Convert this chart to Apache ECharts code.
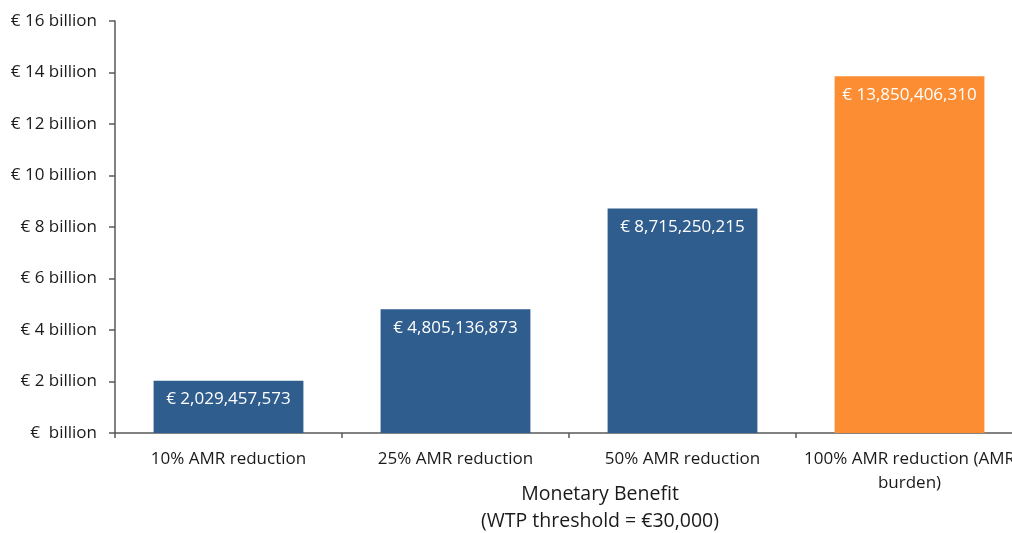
<!DOCTYPE html>
<html>
<head>
<meta charset="utf-8">
<script src="https://cdn.jsdelivr.net/npm/echarts@6/dist/echarts.min.js"></script>
<style>
  html, body { margin: 0; padding: 0; background: #ffffff; }
  #chart { width: 1012px; height: 533px; }
</style>
</head>
<body>
<div id="chart"></div>
<script>
// Monetary benefit of AMR reduction scenarios
const categories = [
  '10% AMR reduction',
  '25% AMR reduction',
  '50% AMR reduction',
  '100% AMR reduction (AMR\nburden)'
];
const benefitValues = [2029457573, 4805136873, 8715250215, 13850406310];
const barColors = ['#2F5D8E', '#2F5D8E', '#2F5D8E', '#FD8D33'];
const yTickStep = 2e9;
const yMax = 16e9;

const FONT = '"Open Sans", "Noto Sans", sans-serif';

function euro(v) {
  return '€ ' + Math.round(v).toLocaleString('en-US');
}

const chart = echarts.init(document.getElementById('chart'), null, { renderer: 'canvas' });
chart.setOption({
  backgroundColor: '#ffffff',
  animation: false,
  grid: {
    left: 115, top: 21, width: 908, height: 412,
    containLabel: false, outerBoundsMode: 'none'
  },
  xAxis: {
    type: 'category',
    data: categories,
    name: 'Monetary Benefit\n(WTP threshold = €30,000)',
    nameLocation: 'middle',
    nameGap: 48,
    nameMoveOverlap: false,
    nameTextStyle: {
      fontFamily: FONT, fontSize: 19.5, color: '#1a1a1a', lineHeight: 27,
      verticalAlign: 'top', padding: [0, 0, 0, 62]
    },
    axisLine: { lineStyle: { color: '#595959', width: 1.5 } },
    axisTick: { show: true, length: 5, lineStyle: { color: '#595959', width: 1.5 } },
    axisLabel: {
      fontFamily: FONT, fontSize: 17, color: '#1a1a1a', margin: 14,
      lineHeight: 24, interval: 0
    }
  },
  yAxis: {
    type: 'value',
    min: 0,
    max: yMax,
    interval: yTickStep,
    splitLine: { show: false },
    axisLine: { show: true, lineStyle: { color: '#595959', width: 1.5 } },
    axisTick: { show: true, length: 6, lineStyle: { color: '#595959', width: 1.5 } },
    axisLabel: {
      fontFamily: FONT, fontSize: 17, color: '#1a1a1a', margin: 18,
      formatter: function (v) {
        return v === 0 ? '€  billion' : '€ ' + (v / 1e9) + ' billion';
      }
    }
  },
  series: [{
    type: 'bar',
    data: benefitValues.map(function (v, i) {
      return { value: v, itemStyle: { color: barColors[i] } };
    }),
    barCategoryGap: '34%',
    label: {
      show: true,
      position: 'insideTop',
      distance: 10,
      fontFamily: FONT,
      fontSize: 17,
      color: '#ffffff',
      formatter: function (p) { return euro(p.value); }
    }
  }]
});
</script>
</body>
</html>
